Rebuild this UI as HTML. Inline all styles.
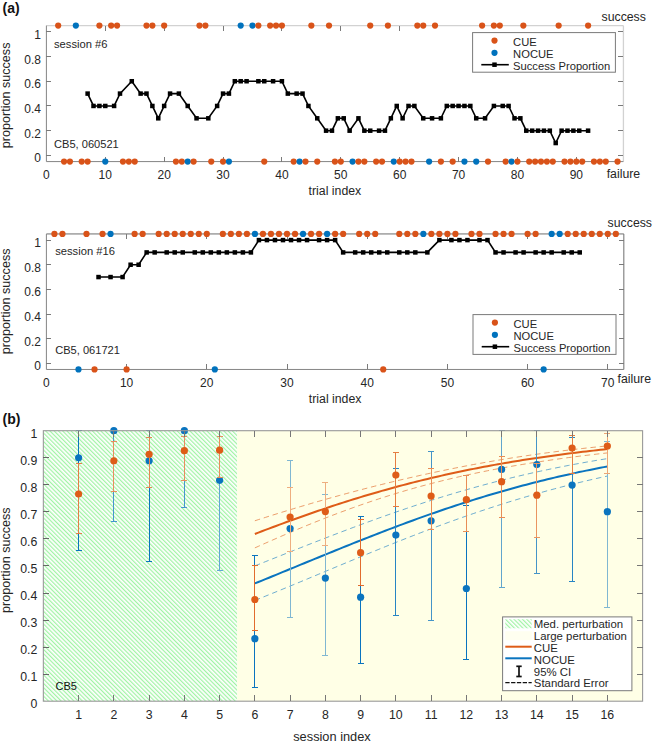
<!DOCTYPE html>
<html><head><meta charset="utf-8"><style>
html,body{margin:0;padding:0;background:#fff;}
body{width:654px;height:744px;overflow:hidden;font-family:"Liberation Sans",sans-serif;}
svg{display:block;}
</style></head><body>
<svg width="654" height="744" viewBox="0 0 654 744" font-family="Liberation Sans, sans-serif">
<rect width="654" height="744" fill="#fff"/>
<line x1="46.4" y1="25.62" x2="623.42" y2="25.62" stroke="#d2d2d2" stroke-width="1.3"/>
<line x1="623.42" y1="25.62" x2="623.42" y2="161.58" stroke="#d2d2d2" stroke-width="1.3"/>
<line x1="46.4" y1="161.58" x2="623.42" y2="161.58" stroke="#858585" stroke-width="1"/>
<line x1="46.4" y1="25.62" x2="46.4" y2="161.58" stroke="#858585" stroke-width="1"/>
<line x1="46.4" y1="155.4" x2="51.4" y2="155.4" stroke="#7a7a7a" stroke-width="1" shape-rendering="crispEdges"/>
<line x1="618.42" y1="155.4" x2="623.42" y2="155.4" stroke="#7a7a7a" stroke-width="1" shape-rendering="crispEdges"/>
<text x="40.9" y="162.4" font-size="12" text-anchor="end" fill="#262626" >0</text>
<line x1="46.4" y1="130.68" x2="51.4" y2="130.68" stroke="#7a7a7a" stroke-width="1" shape-rendering="crispEdges"/>
<line x1="618.42" y1="130.68" x2="623.42" y2="130.68" stroke="#7a7a7a" stroke-width="1" shape-rendering="crispEdges"/>
<text x="40.9" y="137.68" font-size="12" text-anchor="end" fill="#262626" >0.2</text>
<line x1="46.4" y1="105.96" x2="51.4" y2="105.96" stroke="#7a7a7a" stroke-width="1" shape-rendering="crispEdges"/>
<line x1="618.42" y1="105.96" x2="623.42" y2="105.96" stroke="#7a7a7a" stroke-width="1" shape-rendering="crispEdges"/>
<text x="40.9" y="112.96" font-size="12" text-anchor="end" fill="#262626" >0.4</text>
<line x1="46.4" y1="81.24" x2="51.4" y2="81.24" stroke="#7a7a7a" stroke-width="1" shape-rendering="crispEdges"/>
<line x1="618.42" y1="81.24" x2="623.42" y2="81.24" stroke="#7a7a7a" stroke-width="1" shape-rendering="crispEdges"/>
<text x="40.9" y="88.24" font-size="12" text-anchor="end" fill="#262626" >0.6</text>
<line x1="46.4" y1="56.52" x2="51.4" y2="56.52" stroke="#7a7a7a" stroke-width="1" shape-rendering="crispEdges"/>
<line x1="618.42" y1="56.52" x2="623.42" y2="56.52" stroke="#7a7a7a" stroke-width="1" shape-rendering="crispEdges"/>
<text x="40.9" y="63.52" font-size="12" text-anchor="end" fill="#262626" >0.8</text>
<line x1="46.4" y1="31.8" x2="51.4" y2="31.8" stroke="#7a7a7a" stroke-width="1" shape-rendering="crispEdges"/>
<line x1="618.42" y1="31.8" x2="623.42" y2="31.8" stroke="#7a7a7a" stroke-width="1" shape-rendering="crispEdges"/>
<text x="40.9" y="38.8" font-size="12" text-anchor="end" fill="#262626" >1</text>
<text x="46.4" y="178.88" font-size="12" text-anchor="middle" fill="#262626" >0</text>
<line x1="105.28" y1="161.58" x2="105.28" y2="156.58" stroke="#7a7a7a" stroke-width="1" shape-rendering="crispEdges"/>
<line x1="105.28" y1="25.62" x2="105.28" y2="30.62" stroke="#7a7a7a" stroke-width="1" shape-rendering="crispEdges"/>
<text x="105.28" y="178.88" font-size="12" text-anchor="middle" fill="#262626" >10</text>
<line x1="164.16" y1="161.58" x2="164.16" y2="156.58" stroke="#7a7a7a" stroke-width="1" shape-rendering="crispEdges"/>
<line x1="164.16" y1="25.62" x2="164.16" y2="30.62" stroke="#7a7a7a" stroke-width="1" shape-rendering="crispEdges"/>
<text x="164.16" y="178.88" font-size="12" text-anchor="middle" fill="#262626" >20</text>
<line x1="223.04" y1="161.58" x2="223.04" y2="156.58" stroke="#7a7a7a" stroke-width="1" shape-rendering="crispEdges"/>
<line x1="223.04" y1="25.62" x2="223.04" y2="30.62" stroke="#7a7a7a" stroke-width="1" shape-rendering="crispEdges"/>
<text x="223.04" y="178.88" font-size="12" text-anchor="middle" fill="#262626" >30</text>
<line x1="281.92" y1="161.58" x2="281.92" y2="156.58" stroke="#7a7a7a" stroke-width="1" shape-rendering="crispEdges"/>
<line x1="281.92" y1="25.62" x2="281.92" y2="30.62" stroke="#7a7a7a" stroke-width="1" shape-rendering="crispEdges"/>
<text x="281.92" y="178.88" font-size="12" text-anchor="middle" fill="#262626" >40</text>
<line x1="340.8" y1="161.58" x2="340.8" y2="156.58" stroke="#7a7a7a" stroke-width="1" shape-rendering="crispEdges"/>
<line x1="340.8" y1="25.62" x2="340.8" y2="30.62" stroke="#7a7a7a" stroke-width="1" shape-rendering="crispEdges"/>
<text x="340.8" y="178.88" font-size="12" text-anchor="middle" fill="#262626" >50</text>
<line x1="399.68" y1="161.58" x2="399.68" y2="156.58" stroke="#7a7a7a" stroke-width="1" shape-rendering="crispEdges"/>
<line x1="399.68" y1="25.62" x2="399.68" y2="30.62" stroke="#7a7a7a" stroke-width="1" shape-rendering="crispEdges"/>
<text x="399.68" y="178.88" font-size="12" text-anchor="middle" fill="#262626" >60</text>
<line x1="458.56" y1="161.58" x2="458.56" y2="156.58" stroke="#7a7a7a" stroke-width="1" shape-rendering="crispEdges"/>
<text x="458.56" y="178.88" font-size="12" text-anchor="middle" fill="#262626" >70</text>
<line x1="517.44" y1="161.58" x2="517.44" y2="156.58" stroke="#7a7a7a" stroke-width="1" shape-rendering="crispEdges"/>
<text x="517.44" y="178.88" font-size="12" text-anchor="middle" fill="#262626" >80</text>
<line x1="576.32" y1="161.58" x2="576.32" y2="156.58" stroke="#7a7a7a" stroke-width="1" shape-rendering="crispEdges"/>
<text x="576.32" y="178.88" font-size="12" text-anchor="middle" fill="#262626" >90</text>
<polyline points="87.62,93.6 93.5,105.96 99.39,105.96 105.28,105.96 114.11,105.96 120,93.6 131.78,81.24 140.61,93.6 146.5,93.6 152.38,105.96 158.27,118.32 164.16,105.96 170.05,93.6 178.88,93.6 187.71,105.96 196.54,118.32 208.32,118.32 217.15,105.96 223.04,93.6 228.93,93.6 234.82,81.24 240.7,81.24 246.59,81.24 258.37,81.24 264.26,81.24 273.09,81.24 281.92,81.24 287.81,93.6 296.64,93.6 302.53,93.6 308.42,105.96 317.25,118.32 326.08,130.68 331.97,130.68 337.86,118.32 343.74,118.32 349.63,130.68 358.46,118.32 364.35,130.68 370.24,130.68 379.07,130.68 384.96,130.68 390.85,118.32 396.74,105.96 402.62,118.32 408.51,105.96 414.4,105.96 423.23,118.32 432.06,118.32 440.9,118.32 446.78,105.96 452.67,105.96 458.56,105.96 464.45,105.96 470.34,105.96 476.22,118.32 485.06,118.32 493.89,105.96 502.72,105.96 508.61,105.96 514.5,118.32 520.38,118.32 526.27,130.68 532.16,130.68 538.05,130.68 543.94,130.68 549.82,130.68 555.71,143.04 561.6,130.68 567.49,130.68 573.38,130.68 579.26,130.68 588.1,130.68" fill="none" stroke="#000" stroke-width="1.6" stroke-linejoin="miter"/>
<rect x="85.37" y="91.35" width="4.5" height="4.5" fill="#000"/>
<rect x="91.25" y="103.71" width="4.5" height="4.5" fill="#000"/>
<rect x="97.14" y="103.71" width="4.5" height="4.5" fill="#000"/>
<rect x="103.03" y="103.71" width="4.5" height="4.5" fill="#000"/>
<rect x="111.86" y="103.71" width="4.5" height="4.5" fill="#000"/>
<rect x="117.75" y="91.35" width="4.5" height="4.5" fill="#000"/>
<rect x="129.53" y="78.99" width="4.5" height="4.5" fill="#000"/>
<rect x="138.36" y="91.35" width="4.5" height="4.5" fill="#000"/>
<rect x="144.25" y="91.35" width="4.5" height="4.5" fill="#000"/>
<rect x="150.13" y="103.71" width="4.5" height="4.5" fill="#000"/>
<rect x="156.02" y="116.07" width="4.5" height="4.5" fill="#000"/>
<rect x="161.91" y="103.71" width="4.5" height="4.5" fill="#000"/>
<rect x="167.8" y="91.35" width="4.5" height="4.5" fill="#000"/>
<rect x="176.63" y="91.35" width="4.5" height="4.5" fill="#000"/>
<rect x="185.46" y="103.71" width="4.5" height="4.5" fill="#000"/>
<rect x="194.29" y="116.07" width="4.5" height="4.5" fill="#000"/>
<rect x="206.07" y="116.07" width="4.5" height="4.5" fill="#000"/>
<rect x="214.9" y="103.71" width="4.5" height="4.5" fill="#000"/>
<rect x="220.79" y="91.35" width="4.5" height="4.5" fill="#000"/>
<rect x="226.68" y="91.35" width="4.5" height="4.5" fill="#000"/>
<rect x="232.57" y="78.99" width="4.5" height="4.5" fill="#000"/>
<rect x="238.45" y="78.99" width="4.5" height="4.5" fill="#000"/>
<rect x="244.34" y="78.99" width="4.5" height="4.5" fill="#000"/>
<rect x="256.12" y="78.99" width="4.5" height="4.5" fill="#000"/>
<rect x="262.01" y="78.99" width="4.5" height="4.5" fill="#000"/>
<rect x="270.84" y="78.99" width="4.5" height="4.5" fill="#000"/>
<rect x="279.67" y="78.99" width="4.5" height="4.5" fill="#000"/>
<rect x="285.56" y="91.35" width="4.5" height="4.5" fill="#000"/>
<rect x="294.39" y="91.35" width="4.5" height="4.5" fill="#000"/>
<rect x="300.28" y="91.35" width="4.5" height="4.5" fill="#000"/>
<rect x="306.17" y="103.71" width="4.5" height="4.5" fill="#000"/>
<rect x="315" y="116.07" width="4.5" height="4.5" fill="#000"/>
<rect x="323.83" y="128.43" width="4.5" height="4.5" fill="#000"/>
<rect x="329.72" y="128.43" width="4.5" height="4.5" fill="#000"/>
<rect x="335.61" y="116.07" width="4.5" height="4.5" fill="#000"/>
<rect x="341.49" y="116.07" width="4.5" height="4.5" fill="#000"/>
<rect x="347.38" y="128.43" width="4.5" height="4.5" fill="#000"/>
<rect x="356.21" y="116.07" width="4.5" height="4.5" fill="#000"/>
<rect x="362.1" y="128.43" width="4.5" height="4.5" fill="#000"/>
<rect x="367.99" y="128.43" width="4.5" height="4.5" fill="#000"/>
<rect x="376.82" y="128.43" width="4.5" height="4.5" fill="#000"/>
<rect x="382.71" y="128.43" width="4.5" height="4.5" fill="#000"/>
<rect x="388.6" y="116.07" width="4.5" height="4.5" fill="#000"/>
<rect x="394.49" y="103.71" width="4.5" height="4.5" fill="#000"/>
<rect x="400.37" y="116.07" width="4.5" height="4.5" fill="#000"/>
<rect x="406.26" y="103.71" width="4.5" height="4.5" fill="#000"/>
<rect x="412.15" y="103.71" width="4.5" height="4.5" fill="#000"/>
<rect x="420.98" y="116.07" width="4.5" height="4.5" fill="#000"/>
<rect x="429.81" y="116.07" width="4.5" height="4.5" fill="#000"/>
<rect x="438.65" y="116.07" width="4.5" height="4.5" fill="#000"/>
<rect x="444.53" y="103.71" width="4.5" height="4.5" fill="#000"/>
<rect x="450.42" y="103.71" width="4.5" height="4.5" fill="#000"/>
<rect x="456.31" y="103.71" width="4.5" height="4.5" fill="#000"/>
<rect x="462.2" y="103.71" width="4.5" height="4.5" fill="#000"/>
<rect x="468.09" y="103.71" width="4.5" height="4.5" fill="#000"/>
<rect x="473.97" y="116.07" width="4.5" height="4.5" fill="#000"/>
<rect x="482.81" y="116.07" width="4.5" height="4.5" fill="#000"/>
<rect x="491.64" y="103.71" width="4.5" height="4.5" fill="#000"/>
<rect x="500.47" y="103.71" width="4.5" height="4.5" fill="#000"/>
<rect x="506.36" y="103.71" width="4.5" height="4.5" fill="#000"/>
<rect x="512.25" y="116.07" width="4.5" height="4.5" fill="#000"/>
<rect x="518.13" y="116.07" width="4.5" height="4.5" fill="#000"/>
<rect x="524.02" y="128.43" width="4.5" height="4.5" fill="#000"/>
<rect x="529.91" y="128.43" width="4.5" height="4.5" fill="#000"/>
<rect x="535.8" y="128.43" width="4.5" height="4.5" fill="#000"/>
<rect x="541.69" y="128.43" width="4.5" height="4.5" fill="#000"/>
<rect x="547.57" y="128.43" width="4.5" height="4.5" fill="#000"/>
<rect x="553.46" y="140.79" width="4.5" height="4.5" fill="#000"/>
<rect x="559.35" y="128.43" width="4.5" height="4.5" fill="#000"/>
<rect x="565.24" y="128.43" width="4.5" height="4.5" fill="#000"/>
<rect x="571.13" y="128.43" width="4.5" height="4.5" fill="#000"/>
<rect x="577.01" y="128.43" width="4.5" height="4.5" fill="#000"/>
<rect x="585.85" y="128.43" width="4.5" height="4.5" fill="#000"/>
<circle cx="58.18" cy="25.62" r="3.1" fill="#D95319"/>
<circle cx="75.84" cy="25.62" r="3.1" fill="#0072BD"/>
<circle cx="99.39" cy="25.62" r="3.1" fill="#D95319"/>
<circle cx="111.17" cy="25.62" r="3.1" fill="#D95319"/>
<circle cx="117.06" cy="25.62" r="3.1" fill="#D95319"/>
<circle cx="146.5" cy="25.62" r="3.1" fill="#D95319"/>
<circle cx="152.38" cy="25.62" r="3.1" fill="#D95319"/>
<circle cx="164.16" cy="25.62" r="3.1" fill="#D95319"/>
<circle cx="199.49" cy="25.62" r="3.1" fill="#D95319"/>
<circle cx="205.38" cy="25.62" r="3.1" fill="#D95319"/>
<circle cx="240.7" cy="25.62" r="3.1" fill="#0072BD"/>
<circle cx="252.48" cy="25.62" r="3.1" fill="#0072BD"/>
<circle cx="258.37" cy="25.62" r="3.1" fill="#D95319"/>
<circle cx="270.14" cy="25.62" r="3.1" fill="#D95319"/>
<circle cx="276.03" cy="25.62" r="3.1" fill="#D95319"/>
<circle cx="281.92" cy="25.62" r="3.1" fill="#D95319"/>
<circle cx="311.36" cy="25.62" r="3.1" fill="#D95319"/>
<circle cx="329.02" cy="25.62" r="3.1" fill="#D95319"/>
<circle cx="370.24" cy="25.62" r="3.1" fill="#D95319"/>
<circle cx="387.9" cy="25.62" r="3.1" fill="#D95319"/>
<circle cx="417.34" cy="25.62" r="3.1" fill="#D95319"/>
<circle cx="423.23" cy="25.62" r="3.1" fill="#D95319"/>
<circle cx="435.01" cy="25.62" r="3.1" fill="#D95319"/>
<circle cx="482.11" cy="25.62" r="3.1" fill="#D95319"/>
<circle cx="493.89" cy="25.62" r="3.1" fill="#D95319"/>
<circle cx="499.78" cy="25.62" r="3.1" fill="#D95319"/>
<circle cx="523.33" cy="25.62" r="3.1" fill="#D95319"/>
<circle cx="558.66" cy="25.62" r="3.1" fill="#D95319"/>
<circle cx="588.1" cy="25.62" r="3.1" fill="#D95319"/>
<circle cx="64.06" cy="161.58" r="3.1" fill="#D95319"/>
<circle cx="69.95" cy="161.58" r="3.1" fill="#D95319"/>
<circle cx="81.73" cy="161.58" r="3.1" fill="#D95319"/>
<circle cx="87.62" cy="161.58" r="3.1" fill="#D95319"/>
<circle cx="105.28" cy="161.58" r="3.1" fill="#0072BD"/>
<circle cx="122.94" cy="161.58" r="3.1" fill="#D95319"/>
<circle cx="128.83" cy="161.58" r="3.1" fill="#D95319"/>
<circle cx="134.72" cy="161.58" r="3.1" fill="#D95319"/>
<circle cx="175.94" cy="161.58" r="3.1" fill="#D95319"/>
<circle cx="181.82" cy="161.58" r="3.1" fill="#D95319"/>
<circle cx="187.71" cy="161.58" r="3.1" fill="#0072BD"/>
<circle cx="193.6" cy="161.58" r="3.1" fill="#D95319"/>
<circle cx="211.26" cy="161.58" r="3.1" fill="#D95319"/>
<circle cx="223.04" cy="161.58" r="3.1" fill="#D95319"/>
<circle cx="228.93" cy="161.58" r="3.1" fill="#0072BD"/>
<circle cx="264.26" cy="161.58" r="3.1" fill="#D95319"/>
<circle cx="293.7" cy="161.58" r="3.1" fill="#D95319"/>
<circle cx="299.58" cy="161.58" r="3.1" fill="#0072BD"/>
<circle cx="305.47" cy="161.58" r="3.1" fill="#D95319"/>
<circle cx="317.25" cy="161.58" r="3.1" fill="#D95319"/>
<circle cx="334.91" cy="161.58" r="3.1" fill="#D95319"/>
<circle cx="340.8" cy="161.58" r="3.1" fill="#D95319"/>
<circle cx="352.58" cy="161.58" r="3.1" fill="#0072BD"/>
<circle cx="358.46" cy="161.58" r="3.1" fill="#D95319"/>
<circle cx="364.35" cy="161.58" r="3.1" fill="#D95319"/>
<circle cx="376.13" cy="161.58" r="3.1" fill="#D95319"/>
<circle cx="382.02" cy="161.58" r="3.1" fill="#D95319"/>
<circle cx="393.79" cy="161.58" r="3.1" fill="#0072BD"/>
<circle cx="399.68" cy="161.58" r="3.1" fill="#D95319"/>
<circle cx="405.57" cy="161.58" r="3.1" fill="#D95319"/>
<circle cx="411.46" cy="161.58" r="3.1" fill="#D95319"/>
<circle cx="429.12" cy="161.58" r="3.1" fill="#0072BD"/>
<circle cx="440.9" cy="161.58" r="3.1" fill="#D95319"/>
<circle cx="452.67" cy="161.58" r="3.1" fill="#D95319"/>
<circle cx="464.45" cy="161.58" r="3.1" fill="#0072BD"/>
<circle cx="476.22" cy="161.58" r="3.1" fill="#0072BD"/>
<circle cx="488" cy="161.58" r="3.1" fill="#D95319"/>
<circle cx="505.66" cy="161.58" r="3.1" fill="#D95319"/>
<circle cx="511.55" cy="161.58" r="3.1" fill="#0072BD"/>
<circle cx="517.44" cy="161.58" r="3.1" fill="#D95319"/>
<circle cx="529.22" cy="161.58" r="3.1" fill="#D95319"/>
<circle cx="535.1" cy="161.58" r="3.1" fill="#D95319"/>
<circle cx="540.99" cy="161.58" r="3.1" fill="#D95319"/>
<circle cx="546.88" cy="161.58" r="3.1" fill="#D95319"/>
<circle cx="552.77" cy="161.58" r="3.1" fill="#D95319"/>
<circle cx="564.54" cy="161.58" r="3.1" fill="#D95319"/>
<circle cx="570.43" cy="161.58" r="3.1" fill="#D95319"/>
<circle cx="576.32" cy="161.58" r="3.1" fill="#D95319"/>
<circle cx="582.21" cy="161.58" r="3.1" fill="#D95319"/>
<circle cx="593.98" cy="161.58" r="3.1" fill="#D95319"/>
<circle cx="599.87" cy="161.58" r="3.1" fill="#D95319"/>
<circle cx="605.76" cy="161.58" r="3.1" fill="#D95319"/>
<circle cx="617.54" cy="161.58" r="3.1" fill="#D95319"/>
<text x="54" y="47.7" font-size="11.2" text-anchor="start" fill="#262626" >session #6</text>
<text x="54" y="148.1" font-size="11.1" text-anchor="start" fill="#262626" >CB5, 060521</text>
<text x="601.5" y="20.6" font-size="12.3" text-anchor="start" fill="#262626" >success</text>
<text x="606.7" y="177.6" font-size="12.3" text-anchor="start" fill="#262626" >failure</text>
<text x="334.91" y="195" font-size="12.3" text-anchor="middle" fill="#262626" >trial index</text>
<text x="10" y="95.4" font-size="12.6" text-anchor="middle" fill="#262626" transform="rotate(-90 10.0 95.4)">proportion success</text>
<rect x="472.6" y="32.6" width="142.8" height="39.6" fill="#fff" stroke="#7a7a7a" stroke-width="1"/>
<circle cx="494.5" cy="40.6" r="3.1" fill="#D95319"/>
<circle cx="494.5" cy="52.8" r="3.1" fill="#0072BD"/>
<line x1="481.3" y1="64.7" x2="508.8" y2="64.7" stroke="#000" stroke-width="1.6"/>
<rect x="492.25" y="62.45" width="4.5" height="4.5" fill="#000"/>
<text x="513.1" y="45.7" font-size="11.2" text-anchor="start" fill="#262626" >CUE</text>
<text x="513.1" y="57.7" font-size="11.2" text-anchor="start" fill="#262626" >NOCUE</text>
<text x="513.1" y="70" font-size="11.2" text-anchor="start" fill="#262626" >Success Proportion</text>
<line x1="46.4" y1="233.94" x2="623.84" y2="233.94" stroke="#6e6e6e" stroke-width="1"/>
<line x1="623.84" y1="233.94" x2="623.84" y2="369.46" stroke="#6e6e6e" stroke-width="1"/>
<line x1="46.4" y1="369.46" x2="623.84" y2="369.46" stroke="#858585" stroke-width="1"/>
<line x1="46.4" y1="233.94" x2="46.4" y2="369.46" stroke="#858585" stroke-width="1"/>
<line x1="46.4" y1="363.3" x2="51.4" y2="363.3" stroke="#7a7a7a" stroke-width="1" shape-rendering="crispEdges"/>
<line x1="618.84" y1="363.3" x2="623.84" y2="363.3" stroke="#7a7a7a" stroke-width="1" shape-rendering="crispEdges"/>
<text x="40.9" y="370.3" font-size="12" text-anchor="end" fill="#262626" >0</text>
<line x1="46.4" y1="338.66" x2="51.4" y2="338.66" stroke="#7a7a7a" stroke-width="1" shape-rendering="crispEdges"/>
<line x1="618.84" y1="338.66" x2="623.84" y2="338.66" stroke="#7a7a7a" stroke-width="1" shape-rendering="crispEdges"/>
<text x="40.9" y="345.66" font-size="12" text-anchor="end" fill="#262626" >0.2</text>
<line x1="46.4" y1="314.02" x2="51.4" y2="314.02" stroke="#7a7a7a" stroke-width="1" shape-rendering="crispEdges"/>
<line x1="618.84" y1="314.02" x2="623.84" y2="314.02" stroke="#7a7a7a" stroke-width="1" shape-rendering="crispEdges"/>
<text x="40.9" y="321.02" font-size="12" text-anchor="end" fill="#262626" >0.4</text>
<line x1="46.4" y1="289.38" x2="51.4" y2="289.38" stroke="#7a7a7a" stroke-width="1" shape-rendering="crispEdges"/>
<line x1="618.84" y1="289.38" x2="623.84" y2="289.38" stroke="#7a7a7a" stroke-width="1" shape-rendering="crispEdges"/>
<text x="40.9" y="296.38" font-size="12" text-anchor="end" fill="#262626" >0.6</text>
<line x1="46.4" y1="264.74" x2="51.4" y2="264.74" stroke="#7a7a7a" stroke-width="1" shape-rendering="crispEdges"/>
<line x1="618.84" y1="264.74" x2="623.84" y2="264.74" stroke="#7a7a7a" stroke-width="1" shape-rendering="crispEdges"/>
<text x="40.9" y="271.74" font-size="12" text-anchor="end" fill="#262626" >0.8</text>
<line x1="46.4" y1="240.1" x2="51.4" y2="240.1" stroke="#7a7a7a" stroke-width="1" shape-rendering="crispEdges"/>
<line x1="618.84" y1="240.1" x2="623.84" y2="240.1" stroke="#7a7a7a" stroke-width="1" shape-rendering="crispEdges"/>
<text x="40.9" y="247.1" font-size="12" text-anchor="end" fill="#262626" >1</text>
<text x="46.4" y="386.76" font-size="12" text-anchor="middle" fill="#262626" >0</text>
<line x1="126.6" y1="369.46" x2="126.6" y2="364.46" stroke="#7a7a7a" stroke-width="1" shape-rendering="crispEdges"/>
<line x1="126.6" y1="233.94" x2="126.6" y2="238.94" stroke="#7a7a7a" stroke-width="1" shape-rendering="crispEdges"/>
<text x="126.6" y="386.76" font-size="12" text-anchor="middle" fill="#262626" >10</text>
<line x1="206.8" y1="369.46" x2="206.8" y2="364.46" stroke="#7a7a7a" stroke-width="1" shape-rendering="crispEdges"/>
<line x1="206.8" y1="233.94" x2="206.8" y2="238.94" stroke="#7a7a7a" stroke-width="1" shape-rendering="crispEdges"/>
<text x="206.8" y="386.76" font-size="12" text-anchor="middle" fill="#262626" >20</text>
<line x1="287" y1="369.46" x2="287" y2="364.46" stroke="#7a7a7a" stroke-width="1" shape-rendering="crispEdges"/>
<line x1="287" y1="233.94" x2="287" y2="238.94" stroke="#7a7a7a" stroke-width="1" shape-rendering="crispEdges"/>
<text x="287" y="386.76" font-size="12" text-anchor="middle" fill="#262626" >30</text>
<line x1="367.2" y1="369.46" x2="367.2" y2="364.46" stroke="#7a7a7a" stroke-width="1" shape-rendering="crispEdges"/>
<line x1="367.2" y1="233.94" x2="367.2" y2="238.94" stroke="#7a7a7a" stroke-width="1" shape-rendering="crispEdges"/>
<text x="367.2" y="386.76" font-size="12" text-anchor="middle" fill="#262626" >40</text>
<line x1="447.4" y1="369.46" x2="447.4" y2="364.46" stroke="#7a7a7a" stroke-width="1" shape-rendering="crispEdges"/>
<line x1="447.4" y1="233.94" x2="447.4" y2="238.94" stroke="#7a7a7a" stroke-width="1" shape-rendering="crispEdges"/>
<text x="447.4" y="386.76" font-size="12" text-anchor="middle" fill="#262626" >50</text>
<line x1="527.6" y1="369.46" x2="527.6" y2="364.46" stroke="#7a7a7a" stroke-width="1" shape-rendering="crispEdges"/>
<line x1="527.6" y1="233.94" x2="527.6" y2="238.94" stroke="#7a7a7a" stroke-width="1" shape-rendering="crispEdges"/>
<text x="527.6" y="386.76" font-size="12" text-anchor="middle" fill="#262626" >60</text>
<line x1="607.8" y1="369.46" x2="607.8" y2="364.46" stroke="#7a7a7a" stroke-width="1" shape-rendering="crispEdges"/>
<line x1="607.8" y1="233.94" x2="607.8" y2="238.94" stroke="#7a7a7a" stroke-width="1" shape-rendering="crispEdges"/>
<text x="607.8" y="386.76" font-size="12" text-anchor="middle" fill="#262626" >70</text>
<polyline points="98.53,277.06 110.56,277.06 122.59,277.06 130.61,264.74 138.63,264.74 146.65,252.42 154.67,252.42 166.7,252.42 174.72,252.42 182.74,252.42 194.77,252.42 202.79,252.42 210.81,252.42 218.83,252.42 226.85,252.42 234.87,252.42 242.89,252.42 250.91,252.42 258.93,240.1 266.95,240.1 274.97,240.1 282.99,240.1 291.01,240.1 299.03,240.1 307.05,240.1 319.08,240.1 327.1,240.1 335.12,240.1 343.14,252.42 355.17,252.42 363.19,252.42 371.21,252.42 379.23,252.42 387.25,252.42 399.28,252.42 407.3,252.42 415.32,252.42 427.35,252.42 439.38,240.1 451.41,240.1 459.43,240.1 467.45,240.1 479.48,240.1 487.5,240.1 495.52,252.42 503.54,252.42 515.57,252.42 523.59,252.42 535.62,252.42 543.64,252.42 551.66,252.42 563.69,252.42 571.71,252.42 579.73,252.42" fill="none" stroke="#000" stroke-width="1.6" stroke-linejoin="miter"/>
<rect x="96.28" y="274.81" width="4.5" height="4.5" fill="#000"/>
<rect x="108.31" y="274.81" width="4.5" height="4.5" fill="#000"/>
<rect x="120.34" y="274.81" width="4.5" height="4.5" fill="#000"/>
<rect x="128.36" y="262.49" width="4.5" height="4.5" fill="#000"/>
<rect x="136.38" y="262.49" width="4.5" height="4.5" fill="#000"/>
<rect x="144.4" y="250.17" width="4.5" height="4.5" fill="#000"/>
<rect x="152.42" y="250.17" width="4.5" height="4.5" fill="#000"/>
<rect x="164.45" y="250.17" width="4.5" height="4.5" fill="#000"/>
<rect x="172.47" y="250.17" width="4.5" height="4.5" fill="#000"/>
<rect x="180.49" y="250.17" width="4.5" height="4.5" fill="#000"/>
<rect x="192.52" y="250.17" width="4.5" height="4.5" fill="#000"/>
<rect x="200.54" y="250.17" width="4.5" height="4.5" fill="#000"/>
<rect x="208.56" y="250.17" width="4.5" height="4.5" fill="#000"/>
<rect x="216.58" y="250.17" width="4.5" height="4.5" fill="#000"/>
<rect x="224.6" y="250.17" width="4.5" height="4.5" fill="#000"/>
<rect x="232.62" y="250.17" width="4.5" height="4.5" fill="#000"/>
<rect x="240.64" y="250.17" width="4.5" height="4.5" fill="#000"/>
<rect x="248.66" y="250.17" width="4.5" height="4.5" fill="#000"/>
<rect x="256.68" y="237.85" width="4.5" height="4.5" fill="#000"/>
<rect x="264.7" y="237.85" width="4.5" height="4.5" fill="#000"/>
<rect x="272.72" y="237.85" width="4.5" height="4.5" fill="#000"/>
<rect x="280.74" y="237.85" width="4.5" height="4.5" fill="#000"/>
<rect x="288.76" y="237.85" width="4.5" height="4.5" fill="#000"/>
<rect x="296.78" y="237.85" width="4.5" height="4.5" fill="#000"/>
<rect x="304.8" y="237.85" width="4.5" height="4.5" fill="#000"/>
<rect x="316.83" y="237.85" width="4.5" height="4.5" fill="#000"/>
<rect x="324.85" y="237.85" width="4.5" height="4.5" fill="#000"/>
<rect x="332.87" y="237.85" width="4.5" height="4.5" fill="#000"/>
<rect x="340.89" y="250.17" width="4.5" height="4.5" fill="#000"/>
<rect x="352.92" y="250.17" width="4.5" height="4.5" fill="#000"/>
<rect x="360.94" y="250.17" width="4.5" height="4.5" fill="#000"/>
<rect x="368.96" y="250.17" width="4.5" height="4.5" fill="#000"/>
<rect x="376.98" y="250.17" width="4.5" height="4.5" fill="#000"/>
<rect x="385" y="250.17" width="4.5" height="4.5" fill="#000"/>
<rect x="397.03" y="250.17" width="4.5" height="4.5" fill="#000"/>
<rect x="405.05" y="250.17" width="4.5" height="4.5" fill="#000"/>
<rect x="413.07" y="250.17" width="4.5" height="4.5" fill="#000"/>
<rect x="425.1" y="250.17" width="4.5" height="4.5" fill="#000"/>
<rect x="437.13" y="237.85" width="4.5" height="4.5" fill="#000"/>
<rect x="449.16" y="237.85" width="4.5" height="4.5" fill="#000"/>
<rect x="457.18" y="237.85" width="4.5" height="4.5" fill="#000"/>
<rect x="465.2" y="237.85" width="4.5" height="4.5" fill="#000"/>
<rect x="477.23" y="237.85" width="4.5" height="4.5" fill="#000"/>
<rect x="485.25" y="237.85" width="4.5" height="4.5" fill="#000"/>
<rect x="493.27" y="250.17" width="4.5" height="4.5" fill="#000"/>
<rect x="501.29" y="250.17" width="4.5" height="4.5" fill="#000"/>
<rect x="513.32" y="250.17" width="4.5" height="4.5" fill="#000"/>
<rect x="521.34" y="250.17" width="4.5" height="4.5" fill="#000"/>
<rect x="533.37" y="250.17" width="4.5" height="4.5" fill="#000"/>
<rect x="541.39" y="250.17" width="4.5" height="4.5" fill="#000"/>
<rect x="549.41" y="250.17" width="4.5" height="4.5" fill="#000"/>
<rect x="561.44" y="250.17" width="4.5" height="4.5" fill="#000"/>
<rect x="569.46" y="250.17" width="4.5" height="4.5" fill="#000"/>
<rect x="577.48" y="250.17" width="4.5" height="4.5" fill="#000"/>
<circle cx="54.42" cy="233.94" r="3.1" fill="#D95319"/>
<circle cx="62.44" cy="233.94" r="3.1" fill="#D95319"/>
<circle cx="86.5" cy="233.94" r="3.1" fill="#D95319"/>
<circle cx="102.54" cy="233.94" r="3.1" fill="#D95319"/>
<circle cx="110.56" cy="233.94" r="3.1" fill="#0072BD"/>
<circle cx="134.62" cy="233.94" r="3.1" fill="#D95319"/>
<circle cx="142.64" cy="233.94" r="3.1" fill="#D95319"/>
<circle cx="158.68" cy="233.94" r="3.1" fill="#D95319"/>
<circle cx="166.7" cy="233.94" r="3.1" fill="#D95319"/>
<circle cx="174.72" cy="233.94" r="3.1" fill="#D95319"/>
<circle cx="182.74" cy="233.94" r="3.1" fill="#D95319"/>
<circle cx="190.76" cy="233.94" r="3.1" fill="#D95319"/>
<circle cx="198.78" cy="233.94" r="3.1" fill="#D95319"/>
<circle cx="206.8" cy="233.94" r="3.1" fill="#D95319"/>
<circle cx="222.84" cy="233.94" r="3.1" fill="#D95319"/>
<circle cx="230.86" cy="233.94" r="3.1" fill="#D95319"/>
<circle cx="238.88" cy="233.94" r="3.1" fill="#D95319"/>
<circle cx="246.9" cy="233.94" r="3.1" fill="#D95319"/>
<circle cx="254.92" cy="233.94" r="3.1" fill="#0072BD"/>
<circle cx="262.94" cy="233.94" r="3.1" fill="#D95319"/>
<circle cx="270.96" cy="233.94" r="3.1" fill="#D95319"/>
<circle cx="278.98" cy="233.94" r="3.1" fill="#D95319"/>
<circle cx="287" cy="233.94" r="3.1" fill="#D95319"/>
<circle cx="295.02" cy="233.94" r="3.1" fill="#D95319"/>
<circle cx="303.04" cy="233.94" r="3.1" fill="#0072BD"/>
<circle cx="311.06" cy="233.94" r="3.1" fill="#D95319"/>
<circle cx="319.08" cy="233.94" r="3.1" fill="#D95319"/>
<circle cx="327.1" cy="233.94" r="3.1" fill="#0072BD"/>
<circle cx="335.12" cy="233.94" r="3.1" fill="#D95319"/>
<circle cx="343.14" cy="233.94" r="3.1" fill="#D95319"/>
<circle cx="359.18" cy="233.94" r="3.1" fill="#D95319"/>
<circle cx="367.2" cy="233.94" r="3.1" fill="#D95319"/>
<circle cx="375.22" cy="233.94" r="3.1" fill="#D95319"/>
<circle cx="399.28" cy="233.94" r="3.1" fill="#D95319"/>
<circle cx="407.3" cy="233.94" r="3.1" fill="#D95319"/>
<circle cx="415.32" cy="233.94" r="3.1" fill="#D95319"/>
<circle cx="423.34" cy="233.94" r="3.1" fill="#0072BD"/>
<circle cx="431.36" cy="233.94" r="3.1" fill="#D95319"/>
<circle cx="439.38" cy="233.94" r="3.1" fill="#D95319"/>
<circle cx="447.4" cy="233.94" r="3.1" fill="#D95319"/>
<circle cx="455.42" cy="233.94" r="3.1" fill="#D95319"/>
<circle cx="471.46" cy="233.94" r="3.1" fill="#D95319"/>
<circle cx="479.48" cy="233.94" r="3.1" fill="#D95319"/>
<circle cx="495.52" cy="233.94" r="3.1" fill="#D95319"/>
<circle cx="503.54" cy="233.94" r="3.1" fill="#D95319"/>
<circle cx="511.56" cy="233.94" r="3.1" fill="#D95319"/>
<circle cx="527.6" cy="233.94" r="3.1" fill="#D95319"/>
<circle cx="535.62" cy="233.94" r="3.1" fill="#D95319"/>
<circle cx="551.66" cy="233.94" r="3.1" fill="#0072BD"/>
<circle cx="559.68" cy="233.94" r="3.1" fill="#0072BD"/>
<circle cx="567.7" cy="233.94" r="3.1" fill="#D95319"/>
<circle cx="575.72" cy="233.94" r="3.1" fill="#D95319"/>
<circle cx="583.74" cy="233.94" r="3.1" fill="#D95319"/>
<circle cx="591.76" cy="233.94" r="3.1" fill="#D95319"/>
<circle cx="599.78" cy="233.94" r="3.1" fill="#D95319"/>
<circle cx="607.8" cy="233.94" r="3.1" fill="#D95319"/>
<circle cx="615.82" cy="233.94" r="3.1" fill="#D95319"/>
<circle cx="78.48" cy="369.46" r="3.1" fill="#0072BD"/>
<circle cx="94.52" cy="369.46" r="3.1" fill="#D95319"/>
<circle cx="126.6" cy="369.46" r="3.1" fill="#D95319"/>
<circle cx="214.82" cy="369.46" r="3.1" fill="#0072BD"/>
<circle cx="383.24" cy="369.46" r="3.1" fill="#D95319"/>
<circle cx="543.64" cy="369.46" r="3.1" fill="#0072BD"/>
<text x="55.2" y="254.7" font-size="11.2" text-anchor="start" fill="#262626" >session #16</text>
<text x="55.2" y="353.6" font-size="11.1" text-anchor="start" fill="#262626" >CB5, 061721</text>
<text x="607.6" y="227.3" font-size="12.3" text-anchor="start" fill="#262626" >success</text>
<text x="617.5" y="383" font-size="12.3" text-anchor="start" fill="#262626" >failure</text>
<text x="335.12" y="403" font-size="12.3" text-anchor="middle" fill="#262626" >trial index</text>
<text x="10" y="301.35" font-size="12.6" text-anchor="middle" fill="#262626" transform="rotate(-90 10.0 301.35)">proportion success</text>
<rect x="473" y="314.6" width="143" height="39.8" fill="#fff" stroke="#7a7a7a" stroke-width="1"/>
<circle cx="494.9" cy="322.6" r="3.1" fill="#D95319"/>
<circle cx="494.9" cy="334.8" r="3.1" fill="#0072BD"/>
<line x1="481.7" y1="346.7" x2="509.2" y2="346.7" stroke="#000" stroke-width="1.6"/>
<rect x="492.65" y="344.45" width="4.5" height="4.5" fill="#000"/>
<text x="513.5" y="327.7" font-size="11.2" text-anchor="start" fill="#262626" >CUE</text>
<text x="513.5" y="339.7" font-size="11.2" text-anchor="start" fill="#262626" >NOCUE</text>
<text x="513.5" y="352" font-size="11.2" text-anchor="start" fill="#262626" >Success Proportion</text>
<defs><pattern id="hatch" patternUnits="userSpaceOnUse" width="3.0" height="3.0" patternTransform="rotate(-45)"><rect width="3.0" height="3.0" fill="#fff"/><rect x="0" y="0" width="1.2" height="3.0" fill="#a0f4a4"/></pattern></defs>
<rect x="43.35" y="430.7" width="193.88" height="270.5" fill="url(#hatch)"/>
<rect x="237.22" y="430.7" width="405.38" height="270.5" fill="#ffffe6"/>
<polyline points="254.85,520.77 258.38,519.64 261.9,518.52 265.43,517.4 268.95,516.28 272.48,515.17 276,514.07 279.53,512.98 283.05,511.89 286.58,510.81 290.1,509.74 293.62,508.67 297.15,507.61 300.68,506.56 304.2,505.52 307.73,504.48 311.25,503.45 314.78,502.42 318.3,501.41 321.83,500.4 325.35,499.4 328.88,498.41 332.4,497.42 335.93,496.44 339.45,495.47 342.98,494.51 346.5,493.56 350.02,492.61 353.55,491.67 357.08,490.74 360.6,489.82 364.12,488.9 367.65,487.99 371.18,487.09 374.7,486.2 378.23,485.32 381.75,484.44 385.27,483.58 388.8,482.72 392.33,481.87 395.85,481.02 399.38,480.19 402.9,479.36 406.43,478.54 409.95,477.73 413.48,476.93 417,476.13 420.52,475.34 424.05,474.57 427.58,473.8 431.1,473.03 434.63,472.28 438.15,471.54 441.68,470.8 445.2,470.07 448.73,469.35 452.25,468.64 455.77,467.94 459.3,467.25 462.83,466.56 466.35,465.89 469.88,465.22 473.4,464.56 476.93,463.91 480.45,463.27 483.98,462.64 487.5,462.01 491.02,461.4 494.55,460.79 498.08,460.2 501.6,459.61 505.13,459.03 508.65,458.46 512.18,457.9 515.7,457.34 519.23,456.8 522.75,456.27 526.27,455.74 529.8,455.22 533.33,454.71 536.85,454.21 540.38,453.72 543.9,453.24 547.43,452.76 550.95,452.3 554.48,451.84 558,451.39 561.53,450.95 565.05,450.51 568.58,450.09 572.1,449.67 575.62,449.26 579.15,448.85 582.68,448.46 586.2,448.07 589.73,447.69 593.25,447.32 596.78,446.96 600.3,446.6 603.83,446.25 607.35,445.9" fill="none" stroke="#DE5C18" stroke-width="0.85" stroke-dasharray="5.5 3.8" opacity="0.7"/>
<polyline points="254.85,547.9 258.38,546.32 261.9,544.75 265.43,543.18 268.95,541.63 272.48,540.08 276,538.54 279.53,537 283.05,535.48 286.58,533.97 290.1,532.47 293.62,530.97 297.15,529.49 300.68,528.02 304.2,526.56 307.73,525.12 311.25,523.68 314.78,522.26 318.3,520.85 321.83,519.45 325.35,518.07 328.88,516.7 332.4,515.34 335.93,514 339.45,512.67 342.98,511.36 346.5,510.06 350.02,508.78 353.55,507.51 357.08,506.26 360.6,505.02 364.12,503.8 367.65,502.59 371.18,501.4 374.7,500.22 378.23,499.07 381.75,497.92 385.27,496.79 388.8,495.68 392.33,494.59 395.85,493.51 399.38,492.44 402.9,491.4 406.43,490.36 409.95,489.35 413.48,488.35 417,487.36 420.52,486.39 424.05,485.44 427.58,484.5 431.1,483.58 434.63,482.67 438.15,481.78 441.68,480.9 445.2,480.04 448.73,479.19 452.25,478.36 455.77,477.54 459.3,476.73 462.83,475.94 466.35,475.16 469.88,474.4 473.4,473.64 476.93,472.9 480.45,472.18 483.98,471.47 487.5,470.76 491.02,470.07 494.55,469.4 498.08,468.73 501.6,468.08 505.13,467.44 508.65,466.8 512.18,466.18 515.7,465.57 519.23,464.98 522.75,464.39 526.27,463.81 529.8,463.24 533.33,462.68 536.85,462.13 540.38,461.59 543.9,461.06 547.43,460.54 550.95,460.02 554.48,459.52 558,459.02 561.53,458.54 565.05,458.06 568.58,457.59 572.1,457.13 575.62,456.67 579.15,456.22 582.68,455.78 586.2,455.35 589.73,454.93 593.25,454.51 596.78,454.1 600.3,453.69 603.83,453.3 607.35,452.91" fill="none" stroke="#DE5C18" stroke-width="0.85" stroke-dasharray="5.5 3.8" opacity="0.7"/>
<polyline points="254.85,534 258.38,532.64 261.9,531.28 265.43,529.94 268.95,528.6 272.48,527.27 276,525.95 279.53,524.63 283.05,523.33 286.58,522.03 290.1,520.74 293.62,519.46 297.15,518.2 300.68,516.94 304.2,515.69 307.73,514.45 311.25,513.22 314.78,512 318.3,510.79 321.83,509.59 325.35,508.4 328.88,507.22 332.4,506.06 335.93,504.9 339.45,503.76 342.98,502.62 346.5,501.5 350.02,500.39 353.55,499.29 357.08,498.2 360.6,497.13 364.12,496.06 367.65,495.01 371.18,493.97 374.7,492.94 378.23,491.92 381.75,490.91 385.27,489.92 388.8,488.94 392.33,487.97 395.85,487.01 399.38,486.06 402.9,485.13 406.43,484.21 409.95,483.29 413.48,482.4 417,481.51 420.52,480.63 424.05,479.77 427.58,478.92 431.1,478.08 434.63,477.25 438.15,476.43 441.68,475.62 445.2,474.83 448.73,474.05 452.25,473.27 455.77,472.51 459.3,471.76 462.83,471.03 466.35,470.3 469.88,469.58 473.4,468.88 476.93,468.18 480.45,467.5 483.98,466.82 487.5,466.16 491.02,465.51 494.55,464.86 498.08,464.23 501.6,463.61 505.13,463 508.65,462.39 512.18,461.8 515.7,461.22 519.23,460.64 522.75,460.08 526.27,459.53 529.8,458.98 533.33,458.44 536.85,457.92 540.38,457.4 543.9,456.89 547.43,456.39 550.95,455.9 554.48,455.41 558,454.94 561.53,454.47 565.05,454.01 568.58,453.56 572.1,453.12 575.62,452.68 579.15,452.25 582.68,451.83 586.2,451.42 589.73,451.02 593.25,450.62 596.78,450.23 600.3,449.84 603.83,449.47 607.35,449.1" fill="none" stroke="#DE5C18" stroke-width="2.0"/>
<polyline points="254.85,565.87 258.38,564.47 261.9,563.07 265.43,561.67 268.95,560.27 272.48,558.87 276,557.47 279.53,556.07 283.05,554.67 286.58,553.27 290.1,551.88 293.62,550.48 297.15,549.09 300.68,547.7 304.2,546.32 307.73,544.93 311.25,543.55 314.78,542.17 318.3,540.8 321.83,539.43 325.35,538.07 328.88,536.71 332.4,535.35 335.93,534 339.45,532.66 342.98,531.32 346.5,529.99 350.02,528.66 353.55,527.34 357.08,526.03 360.6,524.72 364.12,523.42 367.65,522.13 371.18,520.85 374.7,519.57 378.23,518.31 381.75,517.05 385.27,515.8 388.8,514.55 392.33,513.32 395.85,512.1 399.38,510.88 402.9,509.68 406.43,508.48 409.95,507.29 413.48,506.12 417,504.95 420.52,503.8 424.05,502.65 427.58,501.52 431.1,500.39 434.63,499.28 438.15,498.18 441.68,497.08 445.2,496 448.73,494.93 452.25,493.88 455.77,492.83 459.3,491.79 462.83,490.77 466.35,489.76 469.88,488.75 473.4,487.76 476.93,486.79 480.45,485.82 483.98,484.86 487.5,483.92 491.02,482.99 494.55,482.07 498.08,481.16 501.6,480.26 505.13,479.38 508.65,478.51 512.18,477.64 515.7,476.79 519.23,475.96 522.75,475.13 526.27,474.31 529.8,473.51 533.33,472.72 536.85,471.94 540.38,471.17 543.9,470.41 547.43,469.66 550.95,468.93 554.48,468.2 558,467.49 561.53,466.79 565.05,466.1 568.58,465.42 572.1,464.75 575.62,464.09 579.15,463.44 582.68,462.8 586.2,462.17 589.73,461.55 593.25,460.95 596.78,460.35 600.3,459.76 603.83,459.19 607.35,458.62" fill="none" stroke="#0A74BF" stroke-width="0.85" stroke-dasharray="5.5 3.8" opacity="0.7"/>
<polyline points="254.85,600.39 258.38,598.99 261.9,597.58 265.43,596.16 268.95,594.73 272.48,593.31 276,591.87 279.53,590.43 283.05,588.99 286.58,587.54 290.1,586.09 293.62,584.63 297.15,583.17 300.68,581.71 304.2,580.25 307.73,578.78 311.25,577.31 314.78,575.85 318.3,574.37 321.83,572.9 325.35,571.43 328.88,569.96 332.4,568.49 335.93,567.02 339.45,565.55 342.98,564.08 346.5,562.61 350.02,561.15 353.55,559.69 357.08,558.23 360.6,556.77 364.12,555.32 367.65,553.87 371.18,552.42 374.7,550.98 378.23,549.55 381.75,548.12 385.27,546.69 388.8,545.27 392.33,543.86 395.85,542.45 399.38,541.05 402.9,539.66 406.43,538.27 409.95,536.89 413.48,535.52 417,534.15 420.52,532.8 424.05,531.45 427.58,530.11 431.1,528.78 434.63,527.46 438.15,526.15 441.68,524.84 445.2,523.55 448.73,522.27 452.25,520.99 455.77,519.73 459.3,518.47 462.83,517.23 466.35,516 469.88,514.78 473.4,513.56 476.93,512.36 480.45,511.17 483.98,509.99 487.5,508.83 491.02,507.67 494.55,506.53 498.08,505.39 501.6,504.27 505.13,503.16 508.65,502.06 512.18,500.98 515.7,499.9 519.23,498.84 522.75,497.78 526.27,496.74 529.8,495.72 533.33,494.7 536.85,493.7 540.38,492.7 543.9,491.72 547.43,490.75 550.95,489.79 554.48,488.85 558,487.92 561.53,486.99 565.05,486.08 568.58,485.18 572.1,484.3 575.62,483.42 579.15,482.56 582.68,481.7 586.2,480.86 589.73,480.03 593.25,479.21 596.78,478.41 600.3,477.61 603.83,476.83 607.35,476.05" fill="none" stroke="#0A74BF" stroke-width="0.85" stroke-dasharray="5.5 3.8" opacity="0.7"/>
<polyline points="254.85,583.42 258.38,581.99 261.9,580.56 265.43,579.13 268.95,577.7 272.48,576.26 276,574.82 279.53,573.37 283.05,571.93 286.58,570.48 290.1,569.03 293.62,567.59 297.15,566.14 300.68,564.69 304.2,563.24 307.73,561.79 311.25,560.35 314.78,558.9 318.3,557.46 321.83,556.01 325.35,554.58 328.88,553.14 332.4,551.7 335.93,550.27 339.45,548.85 342.98,547.42 346.5,546 350.02,544.59 353.55,543.18 357.08,541.77 360.6,540.37 364.12,538.98 367.65,537.59 371.18,536.21 374.7,534.84 378.23,533.47 381.75,532.11 385.27,530.75 388.8,529.41 392.33,528.07 395.85,526.74 399.38,525.41 402.9,524.1 406.43,522.79 409.95,521.5 413.48,520.21 417,518.93 420.52,517.66 424.05,516.4 427.58,515.15 431.1,513.92 434.63,512.69 438.15,511.47 441.68,510.26 445.2,509.06 448.73,507.87 452.25,506.7 455.77,505.53 459.3,504.38 462.83,503.24 466.35,502.11 469.88,500.99 473.4,499.88 476.93,498.78 480.45,497.69 483.98,496.62 487.5,495.56 491.02,494.51 494.55,493.47 498.08,492.44 501.6,491.43 505.13,490.43 508.65,489.44 512.18,488.46 515.7,487.49 519.23,486.53 522.75,485.59 526.27,484.66 529.8,483.74 533.33,482.83 536.85,481.94 540.38,481.05 543.9,480.18 547.43,479.32 550.95,478.47 554.48,477.64 558,476.81 561.53,476 565.05,475.2 568.58,474.41 572.1,473.63 575.62,472.86 579.15,472.1 582.68,471.36 586.2,470.62 589.73,469.9 593.25,469.19 596.78,468.48 600.3,467.79 603.83,467.11 607.35,466.44" fill="none" stroke="#0A74BF" stroke-width="2.0"/>
<g stroke="#0a74bf" stroke-width="1.0" opacity="1" shape-rendering="crispEdges"><line x1="78.6" y1="550.8" x2="78.6" y2="430.7"/><line x1="75.6" y1="550.8" x2="81.6" y2="550.8"/><line x1="75.6" y1="430.7" x2="81.6" y2="430.7"/></g>
<circle cx="78.6" cy="457.75" r="3.6" fill="#0A74BF"/>
<g stroke="#e57d46" stroke-width="1.0" opacity="1" shape-rendering="crispEdges"><line x1="78.6" y1="533.49" x2="78.6" y2="463.97"/><line x1="75.6" y1="533.49" x2="81.6" y2="533.49"/><line x1="75.6" y1="463.97" x2="81.6" y2="463.97"/></g>
<circle cx="78.6" cy="494" r="3.6" fill="#DE5C18"/>
<g stroke="#4595ce" stroke-width="1.0" opacity="1" shape-rendering="crispEdges"><line x1="113.85" y1="521.86" x2="113.85" y2="430.7"/><line x1="110.85" y1="521.86" x2="116.85" y2="521.86"/><line x1="110.85" y1="430.7" x2="116.85" y2="430.7"/></g>
<circle cx="113.85" cy="430.7" r="3.6" fill="#0A74BF"/>
<g stroke="#e88d5d" stroke-width="1.0" opacity="1" shape-rendering="crispEdges"><line x1="113.85" y1="491.83" x2="113.85" y2="441.79"/><line x1="110.85" y1="491.83" x2="116.85" y2="491.83"/><line x1="110.85" y1="441.79" x2="116.85" y2="441.79"/></g>
<circle cx="113.85" cy="460.73" r="3.6" fill="#DE5C18"/>
<g stroke="#0a74bf" stroke-width="1.0" opacity="1" shape-rendering="crispEdges"><line x1="149.1" y1="561.49" x2="149.1" y2="430.7"/><line x1="146.1" y1="561.49" x2="152.1" y2="561.49"/><line x1="146.1" y1="430.7" x2="152.1" y2="430.7"/></g>
<circle cx="149.1" cy="460.73" r="3.6" fill="#0A74BF"/>
<g stroke="#e68552" stroke-width="1.0" opacity="1" shape-rendering="crispEdges"><line x1="149.1" y1="487.1" x2="149.1" y2="437.46"/><line x1="146.1" y1="487.1" x2="152.1" y2="487.1"/><line x1="146.1" y1="437.46" x2="152.1" y2="437.46"/></g>
<circle cx="149.1" cy="454.23" r="3.6" fill="#DE5C18"/>
<g stroke="#4595ce" stroke-width="1.0" opacity="1" shape-rendering="crispEdges"><line x1="184.35" y1="507.79" x2="184.35" y2="430.7"/><line x1="181.35" y1="507.79" x2="187.35" y2="507.79"/><line x1="181.35" y1="430.7" x2="187.35" y2="430.7"/></g>
<circle cx="184.35" cy="430.7" r="3.6" fill="#0A74BF"/>
<g stroke="#e88d5d" stroke-width="1.0" opacity="1" shape-rendering="crispEdges"><line x1="184.35" y1="480.2" x2="184.35" y2="436.38"/><line x1="181.35" y1="480.2" x2="187.35" y2="480.2"/><line x1="181.35" y1="436.38" x2="187.35" y2="436.38"/></g>
<circle cx="184.35" cy="450.72" r="3.6" fill="#DE5C18"/>
<g stroke="#62a6d6" stroke-width="1.0" opacity="1" shape-rendering="crispEdges"><line x1="219.6" y1="570.28" x2="219.6" y2="436.92"/><line x1="216.6" y1="570.28" x2="222.6" y2="570.28"/><line x1="216.6" y1="436.92" x2="222.6" y2="436.92"/></g>
<circle cx="219.6" cy="480.34" r="3.6" fill="#0A74BF"/>
<g stroke="#e88d5d" stroke-width="1.0" opacity="1" shape-rendering="crispEdges"><line x1="219.6" y1="477.5" x2="219.6" y2="436.92"/><line x1="216.6" y1="477.5" x2="222.6" y2="477.5"/><line x1="216.6" y1="436.92" x2="222.6" y2="436.92"/></g>
<circle cx="219.6" cy="450.18" r="3.6" fill="#DE5C18"/>
<g stroke="#0a74bf" stroke-width="1.0" opacity="1" shape-rendering="crispEdges"><line x1="254.85" y1="687.68" x2="254.85" y2="555.94"/><line x1="251.85" y1="687.68" x2="257.85" y2="687.68"/><line x1="251.85" y1="555.94" x2="257.85" y2="555.94"/></g>
<circle cx="254.85" cy="638.71" r="3.6" fill="#0A74BF"/>
<g stroke="#e16c2d" stroke-width="1.0" opacity="1" shape-rendering="crispEdges"><line x1="254.85" y1="630.33" x2="254.85" y2="565.41"/><line x1="251.85" y1="630.33" x2="257.85" y2="630.33"/><line x1="251.85" y1="565.41" x2="257.85" y2="565.41"/></g>
<circle cx="254.85" cy="599.49" r="3.6" fill="#DE5C18"/>
<g stroke="#80b7d2" stroke-width="1.0" opacity="1" shape-rendering="crispEdges"><line x1="290.1" y1="617.89" x2="290.1" y2="460.73"/><line x1="287.1" y1="617.89" x2="293.1" y2="617.89"/><line x1="287.1" y1="460.73" x2="293.1" y2="460.73"/></g>
<circle cx="290.1" cy="528.62" r="3.6" fill="#0A74BF"/>
<g stroke="#eeae7f" stroke-width="1.0" opacity="1" shape-rendering="crispEdges"><line x1="290.1" y1="551.61" x2="290.1" y2="487.23"/><line x1="287.1" y1="551.61" x2="293.1" y2="551.61"/><line x1="287.1" y1="487.23" x2="293.1" y2="487.23"/></g>
<circle cx="290.1" cy="516.99" r="3.6" fill="#DE5C18"/>
<g stroke="#80b7d2" stroke-width="1.0" opacity="1" shape-rendering="crispEdges"><line x1="325.35" y1="655.59" x2="325.35" y2="494.54"/><line x1="322.35" y1="655.59" x2="328.35" y2="655.59"/><line x1="322.35" y1="494.54" x2="328.35" y2="494.54"/></g>
<circle cx="325.35" cy="578.12" r="3.6" fill="#0A74BF"/>
<g stroke="#eeae7f" stroke-width="1.0" opacity="1" shape-rendering="crispEdges"><line x1="325.35" y1="545.39" x2="325.35" y2="482.91"/><line x1="322.35" y1="545.39" x2="328.35" y2="545.39"/><line x1="322.35" y1="482.91" x2="328.35" y2="482.91"/></g>
<circle cx="325.35" cy="511.58" r="3.6" fill="#DE5C18"/>
<g stroke="#0a74bf" stroke-width="1.0" opacity="1" shape-rendering="crispEdges"><line x1="360.6" y1="663.19" x2="360.6" y2="516.31"/><line x1="357.6" y1="663.19" x2="363.6" y2="663.19"/><line x1="357.6" y1="516.31" x2="363.6" y2="516.31"/></g>
<circle cx="360.6" cy="597.19" r="3.6" fill="#0A74BF"/>
<g stroke="#e16c2d" stroke-width="1.0" opacity="1" shape-rendering="crispEdges"><line x1="360.6" y1="585.97" x2="360.6" y2="519.97"/><line x1="357.6" y1="585.97" x2="363.6" y2="585.97"/><line x1="357.6" y1="519.97" x2="363.6" y2="519.97"/></g>
<circle cx="360.6" cy="552.7" r="3.6" fill="#DE5C18"/>
<g stroke="#2785c4" stroke-width="1.0" opacity="1" shape-rendering="crispEdges"><line x1="395.85" y1="615.72" x2="395.85" y2="468.03"/><line x1="392.85" y1="615.72" x2="398.85" y2="615.72"/><line x1="392.85" y1="468.03" x2="398.85" y2="468.03"/></g>
<circle cx="395.85" cy="535.11" r="3.6" fill="#0A74BF"/>
<g stroke="#e57d41" stroke-width="1.0" opacity="1" shape-rendering="crispEdges"><line x1="395.85" y1="506.98" x2="395.85" y2="452.61"/><line x1="392.85" y1="506.98" x2="398.85" y2="506.98"/><line x1="392.85" y1="452.61" x2="398.85" y2="452.61"/></g>
<circle cx="395.85" cy="475.06" r="3.6" fill="#DE5C18"/>
<g stroke="#4595c8" stroke-width="1.0" opacity="1" shape-rendering="crispEdges"><line x1="431.1" y1="620.4" x2="431.1" y2="451.8"/><line x1="428.1" y1="620.4" x2="434.1" y2="620.4"/><line x1="428.1" y1="451.8" x2="434.1" y2="451.8"/></g>
<circle cx="431.1" cy="520.78" r="3.6" fill="#0A74BF"/>
<g stroke="#e88d56" stroke-width="1.0" opacity="1" shape-rendering="crispEdges"><line x1="431.1" y1="529.7" x2="431.1" y2="468.84"/><line x1="428.1" y1="529.7" x2="434.1" y2="529.7"/><line x1="428.1" y1="468.84" x2="434.1" y2="468.84"/></g>
<circle cx="431.1" cy="496.03" r="3.6" fill="#DE5C18"/>
<g stroke="#0a74bf" stroke-width="1.0" opacity="1" shape-rendering="crispEdges"><line x1="466.35" y1="659.54" x2="466.35" y2="505.09"/><line x1="463.35" y1="659.54" x2="469.35" y2="659.54"/><line x1="463.35" y1="505.09" x2="469.35" y2="505.09"/></g>
<circle cx="466.35" cy="588.51" r="3.6" fill="#0A74BF"/>
<g stroke="#e88d56" stroke-width="1.0" opacity="1" shape-rendering="crispEdges"><line x1="466.35" y1="531.6" x2="466.35" y2="475.06"/><line x1="463.35" y1="531.6" x2="469.35" y2="531.6"/><line x1="463.35" y1="475.06" x2="469.35" y2="475.06"/></g>
<circle cx="466.35" cy="499.68" r="3.6" fill="#DE5C18"/>
<g stroke="#62a6cd" stroke-width="1.0" opacity="1" shape-rendering="crispEdges"><line x1="501.6" y1="587.05" x2="501.6" y2="430.7"/><line x1="498.6" y1="587.05" x2="504.6" y2="587.05"/><line x1="498.6" y1="430.7" x2="504.6" y2="430.7"/></g>
<circle cx="501.6" cy="469.38" r="3.6" fill="#0A74BF"/>
<g stroke="#e88d56" stroke-width="1.0" opacity="1" shape-rendering="crispEdges"><line x1="501.6" y1="517.53" x2="501.6" y2="456.51"/><line x1="498.6" y1="517.53" x2="504.6" y2="517.53"/><line x1="498.6" y1="456.51" x2="504.6" y2="456.51"/></g>
<circle cx="501.6" cy="481.69" r="3.6" fill="#DE5C18"/>
<g stroke="#4595c8" stroke-width="1.0" opacity="1" shape-rendering="crispEdges"><line x1="536.85" y1="573.09" x2="536.85" y2="430.7"/><line x1="533.85" y1="573.09" x2="539.85" y2="573.09"/><line x1="533.85" y1="430.7" x2="539.85" y2="430.7"/></g>
<circle cx="536.85" cy="464.59" r="3.6" fill="#0A74BF"/>
<g stroke="#ea9560" stroke-width="1.0" opacity="1" shape-rendering="crispEdges"><line x1="536.85" y1="537.41" x2="536.85" y2="463.43"/><line x1="533.85" y1="537.41" x2="539.85" y2="537.41"/><line x1="533.85" y1="463.43" x2="539.85" y2="463.43"/></g>
<circle cx="536.85" cy="495.19" r="3.6" fill="#DE5C18"/>
<g stroke="#2785c4" stroke-width="1.0" opacity="1" shape-rendering="crispEdges"><line x1="572.1" y1="581.1" x2="572.1" y2="437.46"/><line x1="569.1" y1="581.1" x2="575.1" y2="581.1"/><line x1="569.1" y1="437.46" x2="575.1" y2="437.46"/></g>
<circle cx="572.1" cy="485.07" r="3.6" fill="#0A74BF"/>
<g stroke="#e57d41" stroke-width="1.0" opacity="1" shape-rendering="crispEdges"><line x1="572.1" y1="473.44" x2="572.1" y2="435.03"/><line x1="569.1" y1="473.44" x2="575.1" y2="473.44"/><line x1="569.1" y1="435.03" x2="575.1" y2="435.03"/></g>
<circle cx="572.1" cy="448.09" r="3.6" fill="#DE5C18"/>
<g stroke="#80b7d2" stroke-width="1.0" opacity="1" shape-rendering="crispEdges"><line x1="607.35" y1="607.07" x2="607.35" y2="441.52"/><line x1="604.35" y1="607.07" x2="610.35" y2="607.07"/><line x1="604.35" y1="441.52" x2="610.35" y2="441.52"/></g>
<circle cx="607.35" cy="511.69" r="3.6" fill="#0A74BF"/>
<g stroke="#eda575" stroke-width="1.0" opacity="1" shape-rendering="crispEdges"><line x1="607.35" y1="473.01" x2="607.35" y2="433.68"/><line x1="604.35" y1="473.01" x2="610.35" y2="473.01"/><line x1="604.35" y1="433.68" x2="610.35" y2="433.68"/></g>
<circle cx="607.35" cy="446.01" r="3.6" fill="#DE5C18"/>
<rect x="43.35" y="430.7" width="599.25" height="270.5" fill="none" stroke="#999" stroke-width="1.1"/>
<text x="37.35" y="708.4" font-size="12.3" text-anchor="end" fill="#262626" >0</text>
<line x1="43.35" y1="674.15" x2="49.35" y2="674.15" stroke="#666" stroke-width="1" shape-rendering="crispEdges"/>
<line x1="636.6" y1="674.15" x2="642.6" y2="674.15" stroke="#777" stroke-width="1" shape-rendering="crispEdges"/>
<text x="37.35" y="681.35" font-size="12.3" text-anchor="end" fill="#262626" >0.1</text>
<line x1="43.35" y1="647.1" x2="49.35" y2="647.1" stroke="#666" stroke-width="1" shape-rendering="crispEdges"/>
<line x1="636.6" y1="647.1" x2="642.6" y2="647.1" stroke="#777" stroke-width="1" shape-rendering="crispEdges"/>
<text x="37.35" y="654.3" font-size="12.3" text-anchor="end" fill="#262626" >0.2</text>
<line x1="43.35" y1="620.05" x2="49.35" y2="620.05" stroke="#666" stroke-width="1" shape-rendering="crispEdges"/>
<line x1="636.6" y1="620.05" x2="642.6" y2="620.05" stroke="#777" stroke-width="1" shape-rendering="crispEdges"/>
<text x="37.35" y="627.25" font-size="12.3" text-anchor="end" fill="#262626" >0.3</text>
<line x1="43.35" y1="593" x2="49.35" y2="593" stroke="#666" stroke-width="1" shape-rendering="crispEdges"/>
<line x1="636.6" y1="593" x2="642.6" y2="593" stroke="#777" stroke-width="1" shape-rendering="crispEdges"/>
<text x="37.35" y="600.2" font-size="12.3" text-anchor="end" fill="#262626" >0.4</text>
<line x1="43.35" y1="565.95" x2="49.35" y2="565.95" stroke="#666" stroke-width="1" shape-rendering="crispEdges"/>
<line x1="636.6" y1="565.95" x2="642.6" y2="565.95" stroke="#777" stroke-width="1" shape-rendering="crispEdges"/>
<text x="37.35" y="573.15" font-size="12.3" text-anchor="end" fill="#262626" >0.5</text>
<line x1="43.35" y1="538.9" x2="49.35" y2="538.9" stroke="#666" stroke-width="1" shape-rendering="crispEdges"/>
<line x1="636.6" y1="538.9" x2="642.6" y2="538.9" stroke="#777" stroke-width="1" shape-rendering="crispEdges"/>
<text x="37.35" y="546.1" font-size="12.3" text-anchor="end" fill="#262626" >0.6</text>
<line x1="43.35" y1="511.85" x2="49.35" y2="511.85" stroke="#666" stroke-width="1" shape-rendering="crispEdges"/>
<line x1="636.6" y1="511.85" x2="642.6" y2="511.85" stroke="#777" stroke-width="1" shape-rendering="crispEdges"/>
<text x="37.35" y="519.05" font-size="12.3" text-anchor="end" fill="#262626" >0.7</text>
<line x1="43.35" y1="484.8" x2="49.35" y2="484.8" stroke="#666" stroke-width="1" shape-rendering="crispEdges"/>
<line x1="636.6" y1="484.8" x2="642.6" y2="484.8" stroke="#777" stroke-width="1" shape-rendering="crispEdges"/>
<text x="37.35" y="492" font-size="12.3" text-anchor="end" fill="#262626" >0.8</text>
<line x1="43.35" y1="457.75" x2="49.35" y2="457.75" stroke="#666" stroke-width="1" shape-rendering="crispEdges"/>
<line x1="636.6" y1="457.75" x2="642.6" y2="457.75" stroke="#777" stroke-width="1" shape-rendering="crispEdges"/>
<text x="37.35" y="464.95" font-size="12.3" text-anchor="end" fill="#262626" >0.9</text>
<text x="37.35" y="437.9" font-size="12.3" text-anchor="end" fill="#262626" >1</text>
<line x1="78.6" y1="701.2" x2="78.6" y2="695.2" stroke="#777" stroke-width="1" shape-rendering="crispEdges"/>
<line x1="78.6" y1="430.7" x2="78.6" y2="436.7" stroke="#777" stroke-width="1" shape-rendering="crispEdges"/>
<text x="78.6" y="719" font-size="12.3" text-anchor="middle" fill="#262626" >1</text>
<line x1="113.85" y1="701.2" x2="113.85" y2="695.2" stroke="#777" stroke-width="1" shape-rendering="crispEdges"/>
<line x1="113.85" y1="430.7" x2="113.85" y2="436.7" stroke="#777" stroke-width="1" shape-rendering="crispEdges"/>
<text x="113.85" y="719" font-size="12.3" text-anchor="middle" fill="#262626" >2</text>
<line x1="149.1" y1="701.2" x2="149.1" y2="695.2" stroke="#777" stroke-width="1" shape-rendering="crispEdges"/>
<line x1="149.1" y1="430.7" x2="149.1" y2="436.7" stroke="#777" stroke-width="1" shape-rendering="crispEdges"/>
<text x="149.1" y="719" font-size="12.3" text-anchor="middle" fill="#262626" >3</text>
<line x1="184.35" y1="701.2" x2="184.35" y2="695.2" stroke="#777" stroke-width="1" shape-rendering="crispEdges"/>
<line x1="184.35" y1="430.7" x2="184.35" y2="436.7" stroke="#777" stroke-width="1" shape-rendering="crispEdges"/>
<text x="184.35" y="719" font-size="12.3" text-anchor="middle" fill="#262626" >4</text>
<line x1="219.6" y1="701.2" x2="219.6" y2="695.2" stroke="#777" stroke-width="1" shape-rendering="crispEdges"/>
<line x1="219.6" y1="430.7" x2="219.6" y2="436.7" stroke="#777" stroke-width="1" shape-rendering="crispEdges"/>
<text x="219.6" y="719" font-size="12.3" text-anchor="middle" fill="#262626" >5</text>
<line x1="254.85" y1="701.2" x2="254.85" y2="695.2" stroke="#777" stroke-width="1" shape-rendering="crispEdges"/>
<line x1="254.85" y1="430.7" x2="254.85" y2="436.7" stroke="#777" stroke-width="1" shape-rendering="crispEdges"/>
<text x="254.85" y="719" font-size="12.3" text-anchor="middle" fill="#262626" >6</text>
<line x1="290.1" y1="701.2" x2="290.1" y2="695.2" stroke="#777" stroke-width="1" shape-rendering="crispEdges"/>
<line x1="290.1" y1="430.7" x2="290.1" y2="436.7" stroke="#777" stroke-width="1" shape-rendering="crispEdges"/>
<text x="290.1" y="719" font-size="12.3" text-anchor="middle" fill="#262626" >7</text>
<line x1="325.35" y1="701.2" x2="325.35" y2="695.2" stroke="#777" stroke-width="1" shape-rendering="crispEdges"/>
<line x1="325.35" y1="430.7" x2="325.35" y2="436.7" stroke="#777" stroke-width="1" shape-rendering="crispEdges"/>
<text x="325.35" y="719" font-size="12.3" text-anchor="middle" fill="#262626" >8</text>
<line x1="360.6" y1="701.2" x2="360.6" y2="695.2" stroke="#777" stroke-width="1" shape-rendering="crispEdges"/>
<line x1="360.6" y1="430.7" x2="360.6" y2="436.7" stroke="#777" stroke-width="1" shape-rendering="crispEdges"/>
<text x="360.6" y="719" font-size="12.3" text-anchor="middle" fill="#262626" >9</text>
<line x1="395.85" y1="701.2" x2="395.85" y2="695.2" stroke="#777" stroke-width="1" shape-rendering="crispEdges"/>
<line x1="395.85" y1="430.7" x2="395.85" y2="436.7" stroke="#777" stroke-width="1" shape-rendering="crispEdges"/>
<text x="395.85" y="719" font-size="12.3" text-anchor="middle" fill="#262626" >10</text>
<line x1="431.1" y1="701.2" x2="431.1" y2="695.2" stroke="#777" stroke-width="1" shape-rendering="crispEdges"/>
<line x1="431.1" y1="430.7" x2="431.1" y2="436.7" stroke="#777" stroke-width="1" shape-rendering="crispEdges"/>
<text x="431.1" y="719" font-size="12.3" text-anchor="middle" fill="#262626" >11</text>
<line x1="466.35" y1="701.2" x2="466.35" y2="695.2" stroke="#777" stroke-width="1" shape-rendering="crispEdges"/>
<line x1="466.35" y1="430.7" x2="466.35" y2="436.7" stroke="#777" stroke-width="1" shape-rendering="crispEdges"/>
<text x="466.35" y="719" font-size="12.3" text-anchor="middle" fill="#262626" >12</text>
<line x1="501.6" y1="701.2" x2="501.6" y2="695.2" stroke="#777" stroke-width="1" shape-rendering="crispEdges"/>
<line x1="501.6" y1="430.7" x2="501.6" y2="436.7" stroke="#777" stroke-width="1" shape-rendering="crispEdges"/>
<text x="501.6" y="719" font-size="12.3" text-anchor="middle" fill="#262626" >13</text>
<line x1="536.85" y1="701.2" x2="536.85" y2="695.2" stroke="#777" stroke-width="1" shape-rendering="crispEdges"/>
<line x1="536.85" y1="430.7" x2="536.85" y2="436.7" stroke="#777" stroke-width="1" shape-rendering="crispEdges"/>
<text x="536.85" y="719" font-size="12.3" text-anchor="middle" fill="#262626" >14</text>
<line x1="572.1" y1="701.2" x2="572.1" y2="695.2" stroke="#777" stroke-width="1" shape-rendering="crispEdges"/>
<line x1="572.1" y1="430.7" x2="572.1" y2="436.7" stroke="#777" stroke-width="1" shape-rendering="crispEdges"/>
<text x="572.1" y="719" font-size="12.3" text-anchor="middle" fill="#262626" >15</text>
<line x1="607.35" y1="701.2" x2="607.35" y2="695.2" stroke="#777" stroke-width="1" shape-rendering="crispEdges"/>
<line x1="607.35" y1="430.7" x2="607.35" y2="436.7" stroke="#777" stroke-width="1" shape-rendering="crispEdges"/>
<text x="607.35" y="719" font-size="12.3" text-anchor="middle" fill="#262626" >16</text>
<text x="55.5" y="690" font-size="11" text-anchor="start" fill="#111" >CB5</text>
<text x="332" y="740.5" font-size="12.8" text-anchor="middle" fill="#262626" >session index</text>
<text x="10" y="560.2" font-size="12.6" text-anchor="middle" fill="#262626" transform="rotate(-90 10.0 560.2)">proportion success</text>
<rect x="502.6" y="616.9" width="129.3" height="73.8" fill="#fff" stroke="#7a7a7a" stroke-width="1"/>
<rect x="505.3" y="619.2" width="26.4" height="9.1" fill="url(#hatch)"/>
<rect x="505.3" y="631.2" width="26.4" height="9.1" fill="#fffff0"/>
<line x1="505.3" y1="646.7" x2="531.7" y2="646.7" stroke="#DE5C18" stroke-width="2"/>
<line x1="505.3" y1="658.3" x2="531.7" y2="658.3" stroke="#0A74BF" stroke-width="2"/>
<g stroke="#111" stroke-width="1.7"><line x1="519" y1="666.3" x2="519" y2="676.5"/><line x1="516.3" y1="666.3" x2="521.7" y2="666.3"/><line x1="516.3" y1="676.5" x2="521.7" y2="676.5"/></g>
<line x1="505.3" y1="682.6" x2="531.7" y2="682.6" stroke="#111" stroke-width="1.2" stroke-dasharray="4.3 1.5"/>
<text x="533.8" y="628.2" font-size="11.4" text-anchor="start" fill="#262626" >Med. perturbation</text>
<text x="533.8" y="640.05" font-size="11.4" text-anchor="start" fill="#262626" >Large perturbation</text>
<text x="533.8" y="651.9" font-size="11.4" text-anchor="start" fill="#262626" >CUE</text>
<text x="533.8" y="663.75" font-size="11.4" text-anchor="start" fill="#262626" >NOCUE</text>
<text x="533.8" y="675.6" font-size="11.4" text-anchor="start" fill="#262626" >95% CI</text>
<text x="533.8" y="687.45" font-size="11.4" text-anchor="start" fill="#262626" >Standard Error</text>
<text x="2.5" y="13.3" font-size="14" text-anchor="start" fill="#111" font-weight="bold" >(a)</text>
<text x="2.5" y="424.1" font-size="14" text-anchor="start" fill="#111" font-weight="bold" >(b)</text>
</svg>
</body></html>
